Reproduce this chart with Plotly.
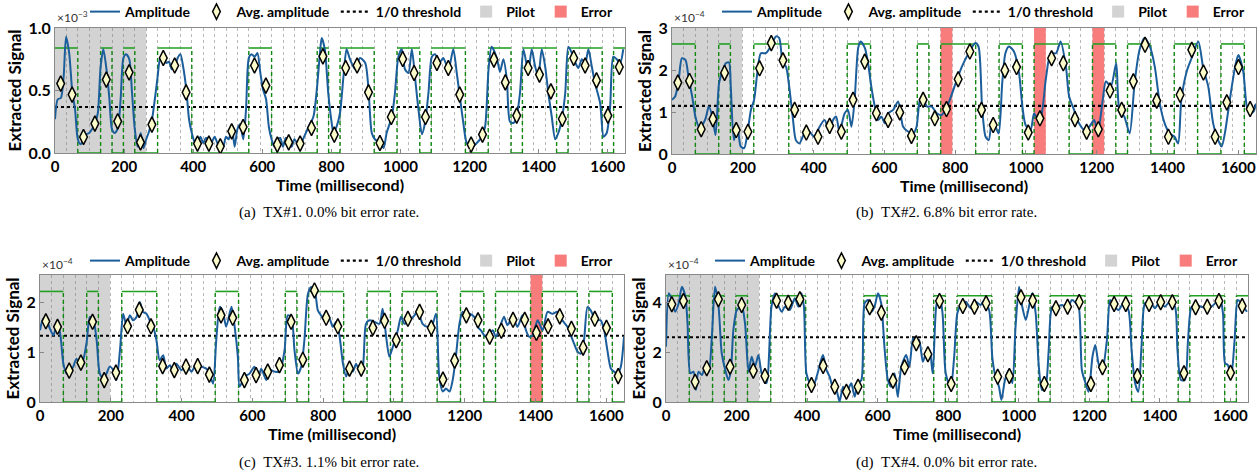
import plotly.graph_objects as go

W, H = 1260, 476
BIT_MS = 33          # one bit lasts 33 ms
X_MAX = 1650

# ------------------------------------------------------------------ data
# (a) TX#1
bits_a = [1,1,0,0,1,0,1,0, 0,1,1,1,0,0,0,0,0,1,1,0,0,0,0,1,0,1,1,1,0,0,1,1,0,1,1,1,0,0,1,1,0,1,1,1,0,1,1,1,0,1]
pilot_a = 8
errors_a = []
thr_a = 0.368
high_a = 0.84
avg_a = [0.555,0.467,0.128,0.235,0.587,0.253,0.645,0.085,0.227,0.76,0.70,0.485,0.075,0.075,0.053,0.173,0.208,0.70,0.539,0.067,
         0.085,0.075,0.20,0.773,0.147,0.68,0.70,0.485,0.08,0.288,0.752,0.64,0.288,0.72,0.68,0.467,0.067,0.147,0.747,0.565,
         0.299,0.68,0.627,0.493,0.272,0.76,0.70,0.581,0.299,0.688]
t_a = [0,8,17,25,32,41,50,58,66,74,83,91,99,107,116,124,132,140,149,157,165,173,182,190,198,206,215,223,231,239,248,256,264,272,
       281,289,297,305,314,322,330,338,347,355,363,371,380,388,396,404,413,421,429,437,446,454,462,470,479,487,495,503,512,520,528,
       536,545,553,561,569,578,586,594,602,611,619,627,635,644,652,660,668,677,685,693,701,710,718,726,734,748,758,767,772,781,791,
       801,806,815,825,835,844,854,869,883,898,907,917,926,941,951,960,975,984,994,1004,1013,1023,1033,1042,1052,1062,1071,1081,
       1091,1100,1115,1124,1139,1153,1163,1172,1182,1192,1206,1221,1235,1245,1255,1264,1279,1288,1298,1308,1317,1327,1336,1346,
       1356,1370,1380,1390,1399,1409,1419,1428,1438,1448,1457,1467,1477,1486,1496,1505,1515,1525,1535,1544,1554,1563,1578,1588,
       1597,1607,1616,1626,1636,1645]
amp_a = [0.27,0.43,0.44,0.61,0.93,0.80,0.49,0.35,0.11,0.07,0.11,0.15,0.16,0.19,0.24,0.32,0.69,0.83,0.67,0.45,0.19,0.16,0.20,0.43,
         0.76,0.79,0.75,0.48,0.19,0.05,0.16,0.04,0.11,0.17,0.27,0.43,0.61,0.76,0.77,0.72,0.73,0.67,0.69,0.76,0.79,0.69,0.51,0.27,
         0.16,0.09,0.08,0.13,0.08,0.12,0.11,0.09,0.13,0.08,0.04,0.05,0.13,0.11,0.21,0.05,0.19,0.23,0.11,0.35,0.76,0.79,0.77,0.80,
         0.65,0.51,0.43,0.21,0.11,0.05,0.11,0.12,0.05,0.12,0.11,0.05,0.11,0.08,0.05,0.11,0.16,0.21,0.29,0.51,0.80,0.92,0.83,0.48,
         0.24,0.16,0.21,0.32,0.61,0.83,0.75,0.67,0.76,0.72,0.53,0.16,0.11,0.08,0.04,0.16,0.29,0.48,0.77,0.83,0.67,0.64,0.83,0.61,
         0.35,0.15,0.24,0.48,0.77,0.79,0.73,0.76,0.67,0.83,0.64,0.45,0.24,0.08,0.05,0.08,0.13,0.21,0.67,0.85,0.76,0.65,0.75,0.59,
         0.25,0.24,0.29,0.48,0.83,0.65,0.83,0.69,0.61,0.83,0.69,0.48,0.29,0.11,0.16,0.27,0.48,0.85,0.80,0.73,0.68,0.75,0.72,0.83,
         0.69,0.56,0.40,0.13,0.16,0.37,0.77,0.75,0.72,0.83]

# (b) TX#2
bits_b = [1,1,0,0,1,0,0,1,1,1, 0,0,0,0,0,1,1,0,0,0, 0,1,0,1,1,1,0,0,1,1, 0,1,1,1,0,0,1,1,0,1, 1,0,0,1,1,0,0,1,1,0]
pilot_b = 6
errors_b = [23, 31, 36]
thr_b = 1.146
high_b = 2.62
avg_b = [1.70,1.74,0.59,0.83,1.93,0.57,0.53,2.04,2.64,2.23,1.05,0.51,0.41,0.67,0.53,1.29,2.20,0.97,0.81,0.99,
         0.43,1.29,0.85,1.07,1.78,2.44,1.05,0.69,1.99,2.07,0.51,0.85,2.28,2.16,0.83,0.53,0.59,1.51,1.05,1.73,
         2.60,1.27,0.41,1.41,2.48,1.94,0.41,1.23,2.07,1.07]
t_b = [0,9,19,28,38,47,57,66,76,85,95,104,114,123,133,142,152,161,166,175,185,194,204,213,223,232,241,251,265,279,294,303,313,
       322,331,341,350,360,374,388,402,417,431,445,455,464,473,488,497,507,516,526,533,545,554,563,573,582,592,601,611,625,639,
       653,668,682,691,701,710,720,734,748,762,781,800,819,838,857,866,876,886,895,904,914,923,933,942,952,966,980,990,999,1013,
       1023,1032,1042,1056,1070,1085,1098,1113,1122,1136,1150,1165,1179,1193,1203,1217,1226,1240,1255,1264,1278,1293,1307,1321,
       1335,1350,1364,1378,1392,1406,1420,1430,1439,1454,1468,1487,1501,1515,1529,1543,1553,1562,1576,1591,1600,1614,1624,1633,
       1643,1650]
amp_b = [1.29,1.37,1.77,2.28,2.24,1.81,1.37,0.89,0.65,0.69,0.85,1.13,0.89,0.45,1.69,1.96,2.16,2.18,1.61,0.33,0.65,0.18,0.14,0.49,
         1.05,1.29,1.93,2.40,2.40,2.56,2.80,2.76,2.16,2.08,1.61,0.89,0.33,0.25,0.49,0.53,0.41,0.65,0.81,0.53,0.81,0.89,0.53,0.97,
         1.05,0.65,1.29,2.52,2.68,2.52,2.16,1.61,1.13,0.81,0.89,0.73,0.97,1.05,1.25,0.65,0.53,0.49,0.65,1.29,1.33,1.13,1.13,0.97,
         0.93,1.21,1.65,2.08,2.40,2.64,2.56,1.13,0.41,0.33,0.81,0.65,0.49,1.69,2.40,2.56,2.44,1.96,1.13,0.69,0.57,0.97,0.85,0.89,
         1.77,2.40,2.40,2.68,2.08,1.37,1.05,0.73,0.57,0.65,0.81,0.49,1.29,1.73,1.61,2.16,1.05,0.89,0.49,1.69,2.48,2.76,2.56,2.08,
         1.21,0.73,0.49,0.41,0.25,1.29,1.96,2.28,2.68,2.04,1.61,0.73,0.33,0.18,0.49,1.29,2.08,2.36,1.96,1.13,0.97,1.01,1.20]

# (c) TX#3
bits_c = [1,1,0,0,1,0,0,1,1,1, 0,0,0,0,0,1,1,0,0,0, 0,1,0,1,1,1,0,0,1,1, 0,1,1,1,0,0,1,1,0,1, 1,1,0,1,1,1,0,1,1,0]
pilot_c = 6
errors_c = [42]
thr_c = 1.33
high_c = 2.22
avg_c = [1.62,1.51,0.63,0.79,1.61,0.44,0.59,1.52,1.85,1.52,0.72,0.64,0.71,0.72,0.55,1.74,1.69,0.44,0.54,0.61,
         0.74,1.61,0.85,2.24,1.69,1.52,0.67,0.67,1.49,1.63,1.24,1.67,1.81,1.49,0.45,0.83,1.74,1.64,1.31,1.43,
         1.65,1.65,1.39,1.52,1.72,1.47,1.09,1.67,1.49,0.52]
t_c = [0,9,19,28,38,47,56,66,75,85,94,103,113,122,132,141,150,160,169,179,188,197,207,216,226,235,244,254,263,273,282,291,301,
       310,320,329,338,348,357,367,376,385,400,414,428,442,456,470,479,489,498,508,517,526,541,550,559,564,578,592,606,616,625,
       639,649,663,677,691,700,710,719,729,738,747,757,766,776,785,794,804,818,827,837,846,856,865,874,884,893,903,912,921,931,
       945,959,968,978,987,997,1011,1020,1030,1044,1058,1067,1081,1095,1109,1119,1128,1138,1147,1157,1166,1175,1185,1194,1204,
       1213,1227,1236,1246,1255,1264,1279,1288,1298,1311,1321,1335,1349,1363,1373,1382,1392,1406,1420,1434,1448,1462,1476,1490,
       1500,1509,1519,1528,1537,1547,1556,1570,1584,1594,1603,1613,1622,1632,1641,1650]
amp_c = [1.44,1.67,1.64,1.47,1.34,1.54,1.41,0.77,0.57,0.61,0.71,0.87,0.74,0.84,1.21,1.71,1.67,1.24,0.57,0.47,0.57,0.71,0.64,0.44,
         1.04,1.77,1.54,1.74,1.64,1.71,2.01,1.81,1.77,1.64,1.51,1.24,0.84,0.94,0.67,0.74,0.61,0.77,0.64,0.74,0.61,0.77,0.71,0.67,
         0.57,0.37,1.24,1.91,1.81,1.51,1.91,1.51,0.91,0.31,0.51,0.57,0.71,0.47,0.67,0.44,0.64,0.61,0.61,1.04,1.74,1.71,1.04,0.57,
         0.71,1.24,2.17,2.31,2.24,1.84,1.74,1.64,1.67,1.51,1.61,1.34,0.77,0.51,0.71,0.61,0.77,0.61,0.71,1.57,1.64,1.61,1.57,1.87,
         1.31,0.91,1.11,1.44,1.71,1.57,1.64,1.74,1.84,1.57,1.51,1.57,1.77,0.51,0.21,0.27,0.21,0.44,0.91,1.57,1.81,1.71,1.77,1.71,
         1.51,1.44,1.34,1.31,1.44,1.31,1.47,1.71,1.54,1.71,1.51,1.74,1.44,1.31,1.34,1.64,1.44,1.81,1.77,1.81,1.64,1.51,1.34,1.17,
         1.01,0.97,1.24,1.91,1.84,1.64,1.64,1.44,1.04,0.67,0.61,0.57,0.71,1.31]

# (d) TX#4
bits_d = [1,1,0,0,1,0,1,0, 0,1,1,1,0,0,0,0,0,1,1,0,0,0,0,1,0,1,1,1,0,0,1,1,0,1,1,1,0,0,1,1,0,1,1,1,0,1,1,1,0,1]
pilot_d = 8
errors_d = []
thr_d = 2.59
high_d = 4.25
avg_d = [3.91,4.04,0.81,1.35,4.11,1.41,3.88,1.25,1.04,4.05,3.97,4.11,0.68,1.44,0.61,0.41,0.61,3.79,3.57,0.85,
         1.39,2.35,1.91,4.04,0.72,3.84,3.81,3.95,1.01,1.04,4.19,4.05,0.72,3.75,3.81,4.00,0.72,1.39,3.92,3.92,
         1.04,3.92,3.99,3.99,1.15,3.79,3.81,4.04,1.17,3.84]
t_d = [0,8,17,26,36,45,55,61,69,78,85,92,102,111,121,130,139,149,158,168,177,184,191,201,215,224,234,243,252,262,271,285,299,
       309,318,328,337,351,365,375,384,391,398,408,417,427,436,445,455,464,474,483,492,502,511,525,535,544,554,563,573,582,591,
       601,610,620,629,638,648,657,667,681,690,700,709,718,728,737,747,756,766,775,784,793,807,817,826,836,850,864,878,892,901,
       916,925,934,944,951,961,972,982,991,1001,1010,1020,1029,1038,1048,1057,1066,1076,1085,1095,1109,1123,1137,1151,1162,1170,
       1179,1188,1198,1209,1217,1226,1236,1250,1259,1268,1283,1297,1311,1320,1330,1339,1348,1358,1372,1386,1400,1414,1428,1443,
       1450,1460,1471,1480,1490,1504,1518,1532,1546,1560,1569,1579,1585,1593,1602,1612,1621,1631,1640,1647]
amp_d = [2.21,4.35,4.08,3.61,3.95,4.61,4.21,3.15,1.15,1.21,0.48,1.21,1.08,1.41,1.21,2.61,4.61,3.81,1.95,1.28,0.88,1.28,2.88,3.68,
         3.81,3.15,1.21,1.81,1.41,1.88,1.15,0.75,3.81,4.35,3.88,3.61,3.81,3.68,4.15,3.81,4.35,3.81,1.15,0.75,0.61,1.01,1.48,1.88,
         1.28,1.01,0.55,0.48,0.02,0.61,0.35,0.75,0.21,0.75,0.88,3.95,4.08,3.61,3.81,4.35,3.95,2.08,0.88,0.61,1.15,0.21,1.41,1.88,
         1.41,2.55,2.21,2.48,1.61,1.95,2.08,1.15,3.81,4.28,3.55,1.15,0.55,1.81,3.55,3.88,4.01,3.75,4.01,3.88,4.05,3.68,1.81,1.01,
         0.61,0.08,0.88,1.28,0.75,3.01,4.61,3.81,3.28,3.81,4.35,3.55,1.41,0.48,0.61,2.08,3.81,3.81,3.88,3.75,4.08,3.95,3.81,1.28,
         0.81,0.41,1.81,2.28,1.55,1.15,2.48,4.08,3.88,3.68,3.95,3.68,2.08,0.75,0.41,2.21,3.95,4.01,3.75,4.01,3.81,4.01,3.81,2.08,
         0.88,0.88,2.48,3.81,3.88,3.81,3.75,3.81,4.01,4.28,3.55,1.55,1.48,0.95,2.48,4.08,3.95,3.75,3.61]

# axis labels
x_ticks = [0, 200, 400, 600, 800, 1000, 1200, 1400, 1600]
y_ticks_a = [0.0, 0.5, 1.0]
y_ticks_b = [0, 1, 2, 3]
y_ticks_c = [0, 1, 2]
y_ticks_d = [0, 2, 4]
exponents = ["-3", "-4", "-4", "-4"]
captions = ["(a)  TX#1. 0.0% bit error rate.", "(b)  TX#2. 6.8% bit error rate.",
            "(c)  TX#3. 1.1% bit error rate.", "(d)  TX#4. 0.0% bit error rate."]

# ------------------------------------------------------------------ style / layout
SANS = "Lato, 'Open Sans', 'DejaVu Sans', sans-serif"
SERIF = "'Liberation Serif', 'DejaVu Serif', serif"
BLUE = "#1b5e9b"
GREEN = "#22a022"
GREEN_D = "#118811"
PILOT = "rgba(120,120,120,0.33)"
ERR = "rgb(248,124,124)"

panels = [
    dict(bits=bits_a, pilot=pilot_a, errs=errors_a, thr=thr_a, high=high_a, avg=avg_a, t=t_a, amp=amp_a,
         yr=1.0, yt=y_ticks_a, fmt="{:.1f}", px=(55, 625), py=(28, 153), leg_right=618, leg_y=12),
    dict(bits=bits_b, pilot=pilot_b, errs=errors_b, thr=thr_b, high=high_b, avg=avg_b, t=t_b, amp=amp_b,
         yr=3.0, yt=y_ticks_b, fmt="{:d}", px=(672, 1256), py=(28, 154), leg_right=1250, leg_y=12),
    dict(bits=bits_c, pilot=pilot_c, errs=errors_c, thr=thr_c, high=high_c, avg=avg_c, t=t_c, amp=amp_c,
         yr=2.55, yt=y_ticks_c, fmt="{:d}", px=(40, 624), py=(275, 402), leg_right=618, leg_y=261),
    dict(bits=bits_d, pilot=pilot_d, errs=errors_d, thr=thr_d, high=high_d, avg=avg_d, t=t_d, amp=amp_d,
         yr=5.08, yt=y_ticks_d, fmt="{:d}", px=(666, 1248), py=(275, 402), leg_right=1243, leg_y=261),
]
cap_pos = [(329, 212), (946, 212), (329, 462), (946, 462)]


def bit_wave(bits, high):
    hx, hy, vx, vy = [], [], [], []
    start = 0
    n = len(bits)
    for k in range(1, n + 1):
        if k == n or bits[k] != bits[start]:
            lvl = high if bits[start] else 0
            hx += [start * BIT_MS, k * BIT_MS, None]
            hy += [lvl, lvl, None]
            if k < n:
                vx += [k * BIT_MS, k * BIT_MS, None]
                vy += [0, high, None]
            start = k
    return hx, hy, vx, vy


fig = go.Figure()
layout = dict(width=W, height=H, margin=dict(l=0, r=0, t=0, b=0, autoexpand=False), paper_bgcolor="white",
              plot_bgcolor="white", barmode="overlay", showlegend=True)
annotations = []

for i, p in enumerate(panels):
    sfx = "" if i == 0 else str(i + 1)
    xa, ya = "x" + sfx, "y" + sfx
    lg = "legend" + sfx
    common = dict(xaxis=xa, yaxis=ya, legend=lg)

    # pilot and error bands
    fig.add_trace(go.Bar(x=[p["pilot"] * BIT_MS / 2], y=[p["yr"]], width=[p["pilot"] * BIT_MS],
                         marker=dict(color=PILOT, line=dict(width=0)), name="Pilot",
                         legendrank=4, hoverinfo="skip", **common))
    ex = [(k + 0.5) * BIT_MS for k in p["errs"]] or [None]
    ey = [p["yr"]] * len(p["errs"]) or [None]
    fig.add_trace(go.Bar(x=ex, y=ey, width=BIT_MS, marker=dict(color=ERR, line=dict(width=0)),
                         name="Error", legendrank=5, hoverinfo="skip", **common))

    # transmitted bits
    hx, hy, vx, vy = bit_wave(p["bits"], p["high"])
    fig.add_trace(go.Scatter(x=hx, y=hy, mode="lines", line=dict(color=GREEN, width=1.6),
                             showlegend=False, hoverinfo="skip", **common))
    fig.add_trace(go.Scatter(x=vx, y=vy, mode="lines", line=dict(color=GREEN_D, width=1.4, dash="4px,3px"),
                             showlegend=False, hoverinfo="skip", **common))

    # threshold
    fig.add_trace(go.Scatter(x=[0, X_MAX], y=[p["thr"], p["thr"]], mode="lines",
                             line=dict(color="black", width=2.2, dash="dot"), name="1/0 threshold",
                             legendrank=3, **common))
    # amplitude
    fig.add_trace(go.Scatter(x=p["t"], y=p["amp"], mode="lines", line=dict(color=BLUE, width=2, shape="spline",
                                                                           smoothing=0.7),
                             name="Amplitude", legendrank=1, **common))
    # average amplitude per bit
    fig.add_trace(go.Scatter(x=[(k + 0.5) * BIT_MS for k in range(len(p["avg"]))], y=p["avg"], mode="markers",
                             marker=dict(symbol="diamond-tall", size=11, color="#fcfccb",
                                         line=dict(color="black", width=1.5)),
                             name="Avg. amplitude", legendrank=2, **common))

    x0, x1 = p["px"]
    y0, y1 = p["py"]
    layout["xaxis" + sfx] = dict(
        domain=[x0 / W, x1 / W], anchor=ya, range=[0, X_MAX], tickvals=x_ticks, automargin=False,
        ticks="inside", ticklen=4, tickcolor="#888", showline=True, linecolor="#8a8a8a", linewidth=1,
        mirror=True, showgrid=False, zeroline=False,
        minor=dict(tick0=0, dtick=BIT_MS, showgrid=True, gridcolor="#b8b8b8", griddash="dot", gridwidth=1),
        tickfont=dict(family=SANS, size=15, color="black", weight="bold"),
        title=dict(text="Time (millisecond)", font=dict(family=SANS, size=16, color="black", weight="bold"),
                   standoff=0),
    )
    layout["yaxis" + sfx] = dict(
        domain=[1 - y1 / H, 1 - y0 / H], anchor=xa, range=[0, p["yr"]], tickvals=p["yt"], automargin=False,
        ticktext=[p["fmt"].format(v) for v in p["yt"]],
        ticks="inside", ticklen=4, tickcolor="#888", showline=True, linecolor="#8a8a8a", linewidth=1,
        mirror=True, showgrid=False, zeroline=False,
        tickfont=dict(family=SANS, size=16, color="black", weight="bold"),
        title=dict(text="Extracted Signal", font=dict(family=SANS, size=17, color="black", weight="bold"),
                   standoff=2),
    )
    layout[lg] = dict(
        orientation="h", x=p["leg_right"] / W, xanchor="right", y=1 - p["leg_y"] / H, yanchor="middle",
        bgcolor="rgba(0,0,0,0)", itemwidth=30, tracegroupgap=0, traceorder="normal",
        font=dict(family=SANS, size=14, color="black", weight="bold"),
    )
    annotations.append(dict(text="×10<sup>" + exponents[i].replace("-", "−") + "</sup>", xref="paper", yref="paper",
                            x=x0 / W, y=1 - (y0 - 1) / H, xanchor="left", yanchor="bottom", showarrow=False,
                            font=dict(family=SANS, size=12, color="#333")))
    cx, cy = cap_pos[i]
    annotations.append(dict(text=captions[i].replace("  ", "&nbsp;&nbsp;"), xref="paper", yref="paper",
                            x=cx / W, y=1 - cy / H, xanchor="center", yanchor="middle", showarrow=False,
                            font=dict(family=SERIF, size=15, color="black")))

layout["annotations"] = annotations
fig.update_layout(**layout)
fig.write_html("out.html", config={"displayModeBar": False},
               post_script="document.body.style.margin='0px';")
